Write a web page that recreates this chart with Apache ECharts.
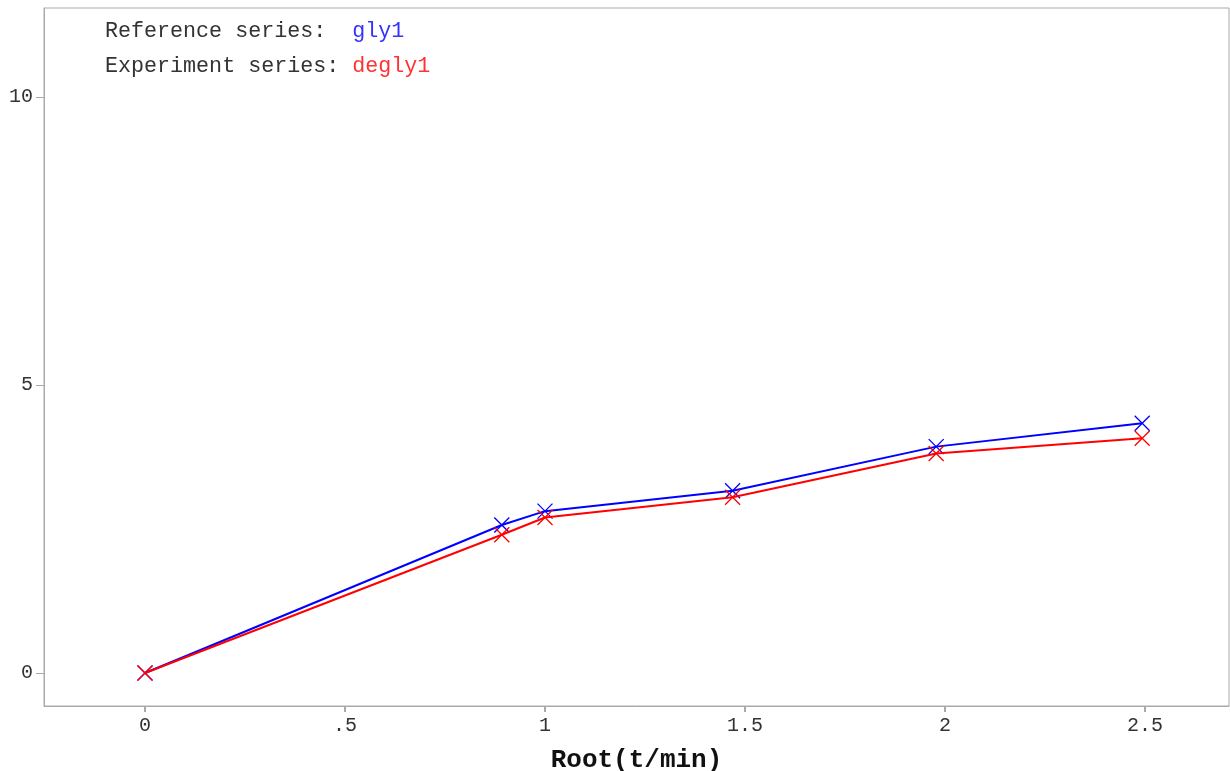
<!DOCTYPE html>
<html>
<head>
<meta charset="utf-8">
<script src="https://cdn.jsdelivr.net/npm/echarts@6/dist/echarts.min.js"></script>
<style>html,body{margin:0;padding:0;background:#fff}#c{width:1230px;height:771px}</style>
</head>
<body>
<div id="c"></div>
<script>
const xValues = [0, 0.892, 1.0, 1.469, 1.978, 2.493];
const refValues = [0, 2.57, 2.81, 3.165, 3.93, 4.335];
const expValues = [0, 2.40, 2.70, 3.05, 3.81, 4.075];
const xTicks = [0, 0.5, 1, 1.5, 2, 2.5];
const xTickLabels = ['0', '.5', '1', '1.5', '2', '2.5'];
const yTicks = [0, 5, 10];
const yTickLabels = ['0', '5', '10'];
const refName = 'gly1';
const expName = 'degly1';
const xTitle = 'Root(t/min)';

const FONT = '"Liberation Mono", "DejaVu Sans Mono", monospace';
const crossPath = 'path://M0,0L10,10M10,0L0,10';

function pairs(xs, ys) { return xs.map((x, i) => [x, ys[i]]); }

const chart = echarts.init(document.getElementById('c'), null, {renderer: 'canvas'});
chart.setOption({
  animation: false,
  backgroundColor: '#ffffff',
  grid: {left: 44, top: 8, right: 1, bottom: 65, show: true, borderColor: '#aaaaaa', borderWidth: 1,
    containLabel: false, outerBoundsMode: 'none'},
  xAxis: {
    type: 'value', min: -0.2525, max: 2.71,
    name: xTitle, nameLocation: 'middle', nameGap: 41,
    nameTextStyle: {fontFamily: FONT, fontWeight: 'bold', fontSize: 26, color: '#111'},
    axisLine: {show: true, onZero: false, lineStyle: {color: '#aaaaaa', width: 1}},
    axisTick: {show: true, length: 6, lineStyle: {color: '#aaaaaa', width: 2}, customValues: xTicks},
    axisLabel: {show: true, fontFamily: FONT, fontSize: 20, color: '#333', margin: 10,
      customValues: xTicks,
      formatter: v => { const i = xTicks.findIndex(t => Math.abs(t - v) < 1e-6); return i >= 0 ? xTickLabels[i] : ''; }},
    splitLine: {show: false}
  },
  yAxis: {
    type: 'value', min: -0.573, max: 11.545,
    axisLine: {show: true, onZero: false, lineStyle: {color: '#aaaaaa', width: 1}},
    axisTick: {show: true, length: 8, lineStyle: {color: '#aaaaaa', width: 1}, customValues: yTicks},
    axisLabel: {show: true, fontFamily: FONT, fontSize: 20, color: '#333', margin: 11,
      customValues: yTicks,
      formatter: v => { const i = yTicks.findIndex(t => Math.abs(t - v) < 1e-6); return i >= 0 ? yTickLabels[i] : ''; }},
    splitLine: {show: false}
  },
  series: [
    {
      name: refName, type: 'line', data: pairs(xValues, refValues),
      symbol: crossPath, symbolSize: 15, showAllSymbol: true,
      lineStyle: {color: '#0000ff', width: 2},
      itemStyle: {color: 'rgba(0,0,0,0)', borderColor: '#0000ff', borderWidth: 1.3},
      z: 2
    },
    {
      name: expName, type: 'line', data: pairs(xValues, expValues),
      symbol: crossPath, symbolSize: 15, showAllSymbol: true,
      lineStyle: {color: '#ff0000', width: 2},
      itemStyle: {color: 'rgba(0,0,0,0)', borderColor: '#ff0000', borderWidth: 1.3},
      z: 3
    }
  ],
  graphic: [
    {type: 'text', left: 105, top: 20, style: {
      text: '{k|Reference series:  }{b|' + refName + '}',
      rich: {k: {fontFamily: FONT, fontSize: 21.7, fill: '#333'}, b: {fontFamily: FONT, fontSize: 21.7, fill: '#3333ff'}}
    }},
    {type: 'text', left: 105, top: 55, style: {
      text: '{k|Experiment series: }{r|' + expName + '}',
      rich: {k: {fontFamily: FONT, fontSize: 21.7, fill: '#333'}, r: {fontFamily: FONT, fontSize: 21.7, fill: '#ff3333'}}
    }}
  ]
});
</script>
</body>
</html>
